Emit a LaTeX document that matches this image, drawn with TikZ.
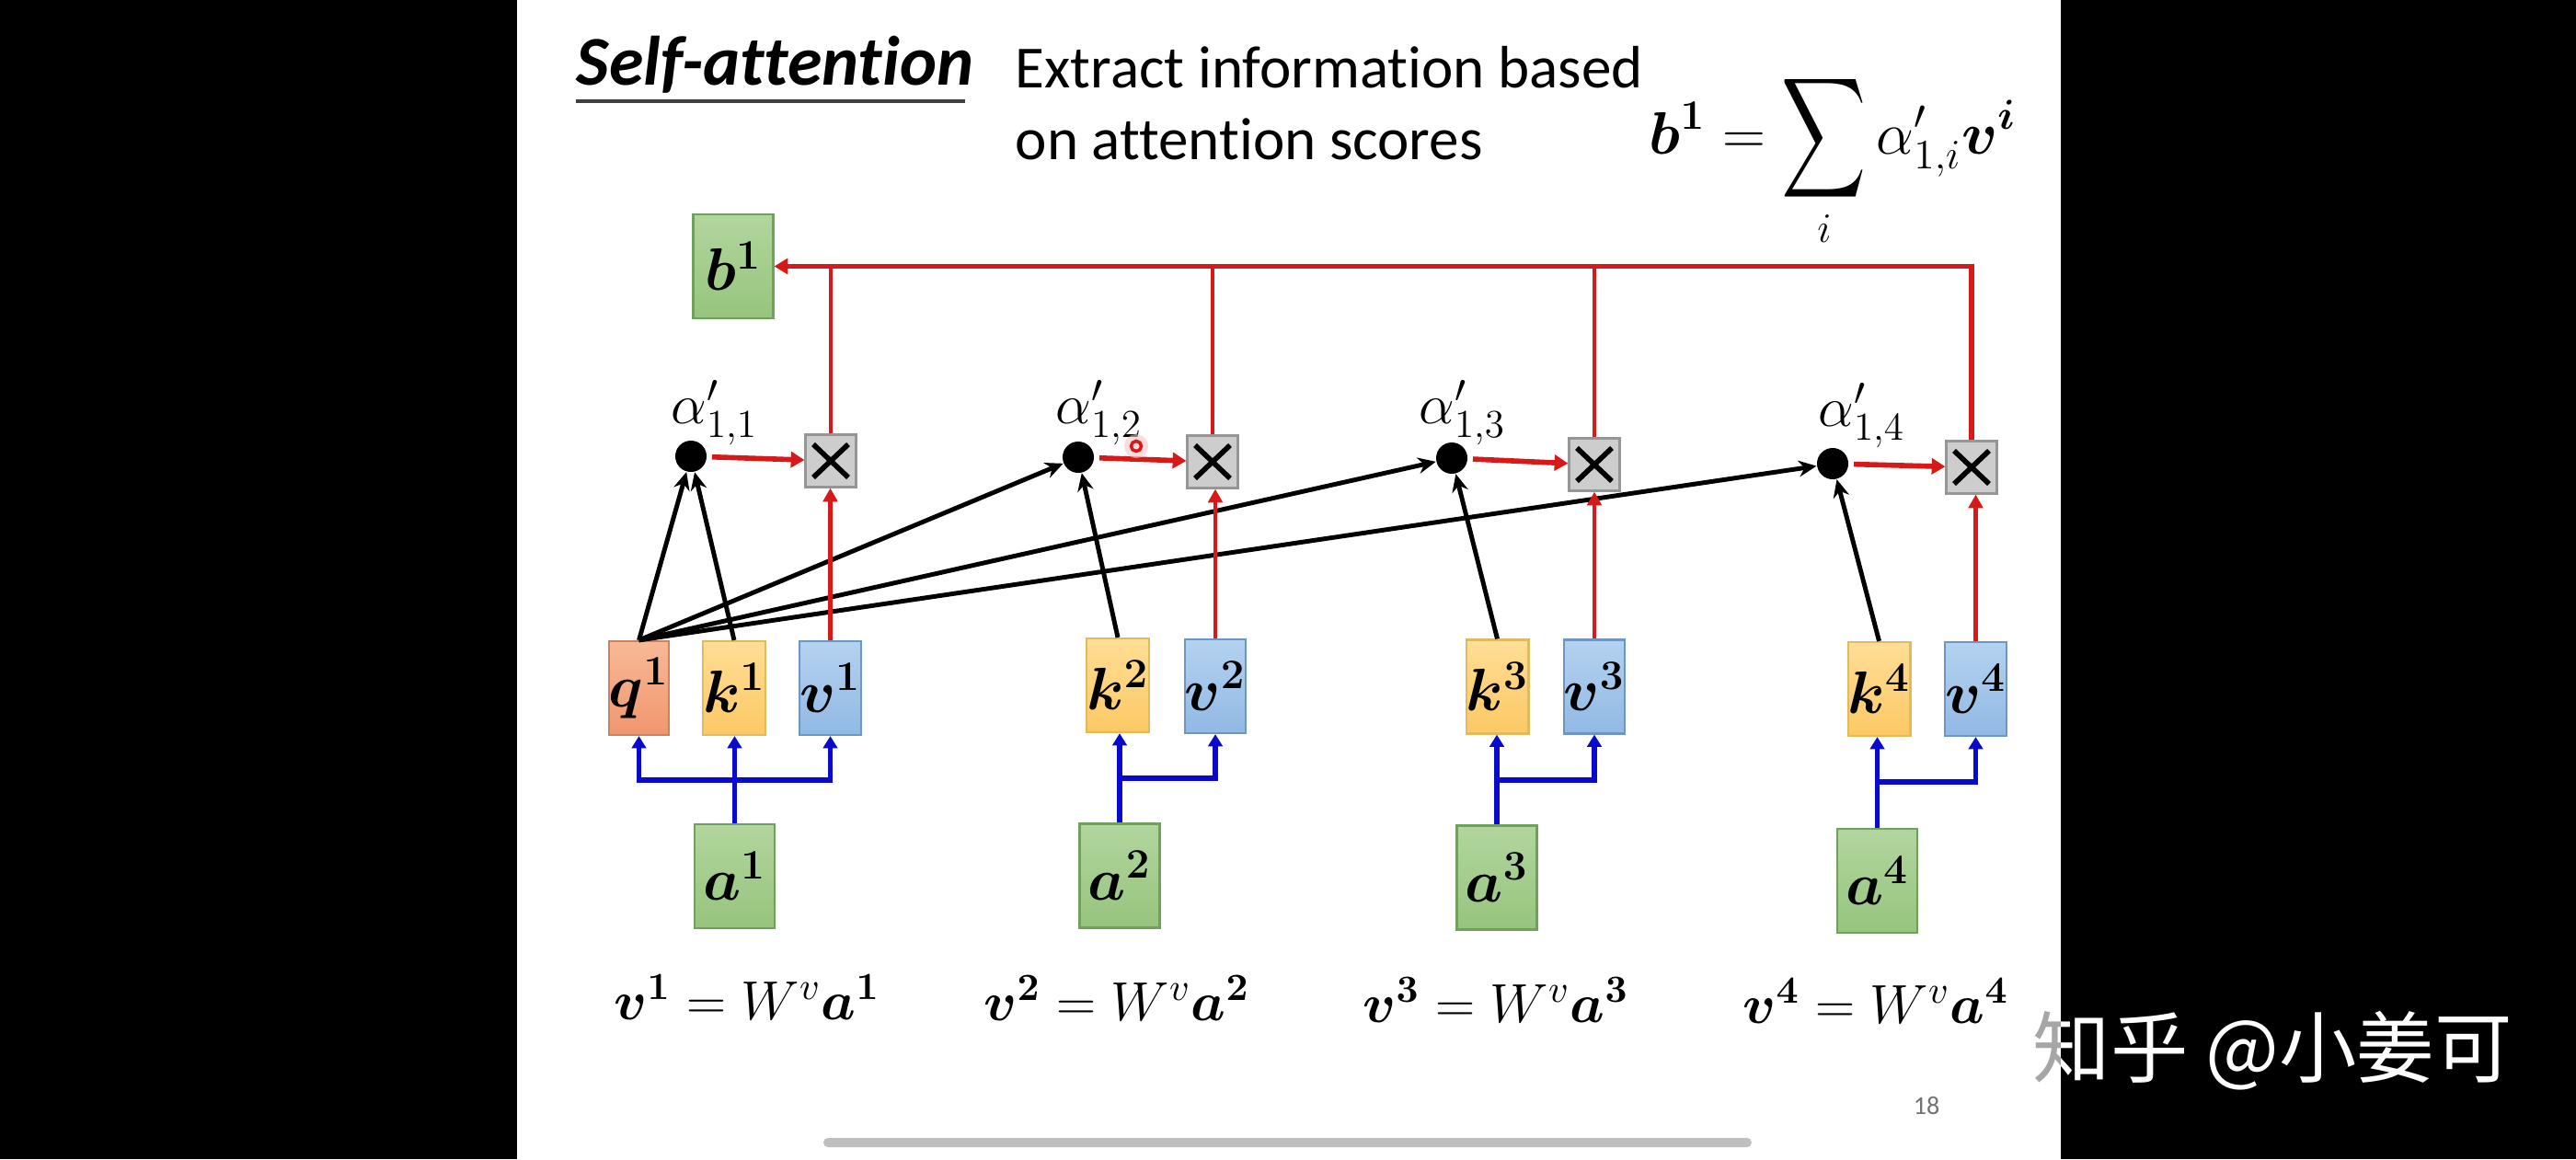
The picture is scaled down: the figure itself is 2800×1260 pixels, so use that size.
\RequirePackage{fix-cm}
\documentclass[tikz,border=0pt]{standalone}
\usepackage{amsmath}
\usepackage{bm}
\usepackage{graphicx}
\usepackage[no-math]{fontspec}
\setmainfont[Ligatures=NoCommon]{Carlito}
\newfontfamily\cjk{Noto Sans CJK SC}
\usetikzlibrary{arrows.meta,calc}
\definecolor{gtop}{RGB}{178,214,158}
\definecolor{gbot}{RGB}{150,196,125}
\definecolor{gbd}{RGB}{112,160,92}
\definecolor{qtop}{RGB}{248,185,150}
\definecolor{qbot}{RGB}{240,150,110}
\definecolor{qbd}{RGB}{205,130,95}
\definecolor{ktop}{RGB}{255,222,150}
\definecolor{kbot}{RGB}{252,200,100}
\definecolor{kbd}{RGB}{225,185,95}
\definecolor{vtop}{RGB}{180,210,240}
\definecolor{vbot}{RGB}{145,185,228}
\definecolor{vbd}{RGB}{110,150,195}
\definecolor{mulfill}{RGB}{205,205,205}
\definecolor{mulbd}{RGB}{150,150,150}
\definecolor{myred}{RGB}{215,25,25}
\definecolor{myblue}{RGB}{10,10,205}
\newcommand{\bigsum}{\mathop{\vcenter{\hbox{\scalebox{1.05}[1.5]{$\displaystyle\sum$}}}}\limits}
\tikzset{
  vecbox/.style={draw, line width=0.6pt, minimum width=0.55cm, minimum height=1.02cm, inner sep=0pt, font=\fontsize{18.5}{20}\selectfont},
  qbox/.style={vecbox, draw=qbd, top color=qtop, bottom color=qbot},
  kbox/.style={vecbox, draw=kbd, top color=ktop, bottom color=kbot},
  vbox/.style={vecbox, draw=vbd, top color=vtop, bottom color=vbot},
  gbox/.style={draw=gbd, line width=0.6pt, top color=gtop, bottom color=gbot, minimum width=0.87cm, minimum height=1.13cm, inner sep=0pt, font=\fontsize{18.5}{20}\selectfont},
  mulbox/.style={draw=mulbd, fill=mulfill, line width=0.6pt, minimum width=0.55cm, minimum height=0.57cm, inner sep=0pt,
    path picture={\draw[black, line width=1.6pt]
      ([shift={(-0.19cm,-0.18cm)}]path picture bounding box.center) -- ([shift={(0.19cm,0.18cm)}]path picture bounding box.center)
      ([shift={(-0.19cm,0.18cm)}]path picture bounding box.center) -- ([shift={(0.19cm,-0.18cm)}]path picture bounding box.center);}},
  dotnode/.style={circle, fill=black, minimum size=0.34cm, inner sep=0pt},
  alabel/.style={anchor=base west, inner sep=0pt, font=\fontsize{17.5}{19}\selectfont},
  eqlabel/.style={anchor=base, inner sep=0pt, font=\fontsize{17}{19}\selectfont},
  redarrow/.style={draw=myred, line width=1.6pt, -{Triangle[length=4.2pt,width=4.8pt]}},
  redline/.style={draw=myred, line width=1.25pt},
  redup/.style={draw=myred, line width=1.25pt, -{Triangle[length=4.2pt,width=4.4pt]}},
  blackarrow/.style={draw=black, line width=1.4pt, -{Stealth[length=5.5pt,width=5pt]}},
  bluearrow/.style={draw=myblue, line width=1.6pt, -{Triangle[length=3.8pt,width=4.4pt]}},
}
\begin{document}
\begin{tikzpicture}[x=0.01cm,y=-0.01cm]
\useasboundingbox (0,0) rectangle (2800,1260);
\fill[white] (0,0) rectangle (2800,1260);
\fill[black] (0,0) rectangle (562,1260);
\fill[black] (2240,0) rectangle (2800,1260);

% title and text
\node[anchor=base west, inner sep=0pt, font=\fontsize{21.6}{24}\selectfont\bfseries\itshape] (title) at (626,92) {Self-attention};
\draw[black!75, line width=0.9pt] (626,110) -- (1049,110);
\node[anchor=base west, inner sep=0pt, font=\fontsize{18.5}{22}\selectfont] (t1) at (1103,95) {Extract information based};
\node[anchor=base west, inner sep=0pt, font=\fontsize{18.5}{22}\selectfont] (t2) at (1103,173) {on attention scores};
\node[anchor=base west, inner sep=0pt, font=\fontsize{18.5}{22}\selectfont] (formula) at (1792,167)
  {$\displaystyle \bm{b}^{\bm{1}} = \bigsum_{i} \alpha'_{1,i}\bm{v}^{\bm{i}}$};

% output
\node[gbox] (b1) at (797,289.5) {$\bm{b}^{\bm{1}}$};

% multiplication boxes
\node[mulbox] (x1) at (903,501) {};
\node[mulbox] (x2) at (1318,502) {};
\node[mulbox] (x3) at (1733,505) {};
\node[mulbox] (x4) at (2143,508) {};

% attention score dots
\node[dotnode] (d1) at (751,496) {};
\node[dotnode] (d2) at (1172,497) {};
\node[dotnode] (d3) at (1578,498) {};
\node[dotnode] (d4) at (1992,504) {};
\node[alabel] (l1) at (729,460) {$\alpha'_{1,1}$};
\node[alabel] (l2) at (1147,460) {$\alpha'_{1,2}$};
\node[alabel] (l3) at (1542,460) {$\alpha'_{1,3}$};
\node[alabel] (l4) at (1976,463) {$\alpha'_{1,4}$};

% q k v
\node[qbox] (q1) at (694.5,748) {$\bm{q}^{\bm{1}}$};
\node[kbox] (k1) at (798,748) {$\bm{k}^{\bm{1}}$};
\node[vbox] (v1) at (902.5,748) {$\bm{v}^{\bm{1}}$};
\node[kbox] (k2) at (1215,745) {$\bm{k}^{\bm{2}}$};
\node[vbox] (v2) at (1321,746) {$\bm{v}^{\bm{2}}$};
\node[kbox] (k3) at (1627.5,746.5) {$\bm{k}^{\bm{3}}$};
\node[vbox] (v3) at (1733,746.5) {$\bm{v}^{\bm{3}}$};
\node[kbox] (k4) at (2042.5,749) {$\bm{k}^{\bm{4}}$};
\node[vbox] (v4) at (2147.5,749) {$\bm{v}^{\bm{4}}$};

% inputs
\node[gbox] (a1) at (798.5,952.5) {$\bm{a}^{\bm{1}}$};
\node[gbox] (a2) at (1217,952) {$\bm{a}^{\bm{2}}$};
\node[gbox] (a3) at (1627,954) {$\bm{a}^{\bm{3}}$};
\node[gbox] (a4) at (2040.5,957.5) {$\bm{a}^{\bm{4}}$};

% equations
\node[eqlabel] (e1) at (812,1108) {$\bm{v}^{\bm{1}} = W^{v}\bm{a}^{\bm{1}}$};
\node[eqlabel] (e2) at (1214,1109) {$\bm{v}^{\bm{2}} = W^{v}\bm{a}^{\bm{2}}$};
\node[eqlabel] (e3) at (1626,1111) {$\bm{v}^{\bm{3}} = W^{v}\bm{a}^{\bm{3}}$};
\node[eqlabel] (e4) at (2039,1112) {$\bm{v}^{\bm{4}} = W^{v}\bm{a}^{\bm{4}}$};

% junctions
\coordinate (j1) at (798.5,848);
\coordinate (j2) at (1217,846);
\coordinate (j3) at (1627,848);
\coordinate (j4) at (2040.5,850);

% blue connectors
\draw[bluearrow] (a1.north) -- (a1.north |- k1.south);
\draw[bluearrow] (j1) -| (q1.south);
\draw[bluearrow] (j1) -| (v1.south);
\draw[bluearrow] (a2.north) -- (a2.north |- k2.south);
\draw[bluearrow] (j2) -| (v2.south);
\draw[bluearrow] (a3.north) -- (a3.north |- k3.south);
\draw[bluearrow] (j3) -| (v3.south);
\draw[bluearrow] (a4.north) -- (a4.north |- k4.south);
\draw[bluearrow] (j4) -| (v4.south);

% black connectors
\draw[blackarrow] (q1.north) -- (d1);
\draw[blackarrow] (k1.north) -- (d1);
\draw[blackarrow] (q1.north) -- (d2);
\draw[blackarrow] (q1.north) -- (d3);
\draw[blackarrow] (q1.north) -- (d4);
\draw[blackarrow] (k2.north) -- (d2);
\draw[blackarrow] (k3.north) -- (d3);
\draw[blackarrow] (k4.north) -- (d4);

% red connectors
\draw[redarrow, shorten <=1.5pt] (d1) -- (x1);
\draw[redarrow, shorten <=1.5pt] (d2) -- (x2);
\draw[redarrow, shorten <=1.5pt] (d3) -- (x3);
\draw[redarrow, shorten <=1.5pt] (d4) -- (x4);
\draw[redup] (v1.north) -- (v1.north |- x1.south);
\draw[redup] (v2.north) -- (v2.north |- x2.south);
\draw[redup] (v3.north) -- (v3.north |- x3.south);
\draw[redup] (v4.north) -- (v4.north |- x4.south);
\draw[draw=myred, line width=1.45pt, -{Triangle[length=4.2pt,width=4.8pt]}] (x4.north) |- (b1.east);
\draw[redline] (x1.north) -- (x1.north |- b1.east);
\draw[redline] (x2.north) -- (x2.north |- b1.east);
\draw[redline] (x3.north) -- (x3.north |- b1.east);

% cursor mark
\fill[myred!25, opacity=0.6] (1235,485) circle[radius=0.13cm];
\draw[myred, line width=1pt] (1235,485) circle[radius=0.055cm];

% page number and scroll bar
\node[inner sep=0pt, text=black!55, font=\fontsize{8}{9}\selectfont] (page) at (2094,1202) {18};
\fill[black!25, rounded corners=0.05cm] (895,1237) rectangle (1904,1247);

% watermark
\begin{scope}
\clip (562,0) rectangle (2240,1260);
\node[anchor=base west, inner sep=0pt, text=black!35, font=\cjk\fontsize{24}{28}\selectfont] (wmg) at (2209,1170) {知乎 @小姜可};
\end{scope}
\begin{scope}
\clip (2240,0) rectangle (2800,1260);
\node[anchor=base west, inner sep=0pt, text=white, font=\cjk\fontsize{24}{28}\selectfont] (wm) at (2209,1170) {知乎 @小姜可};
\end{scope}
\end{tikzpicture}
\end{document}
